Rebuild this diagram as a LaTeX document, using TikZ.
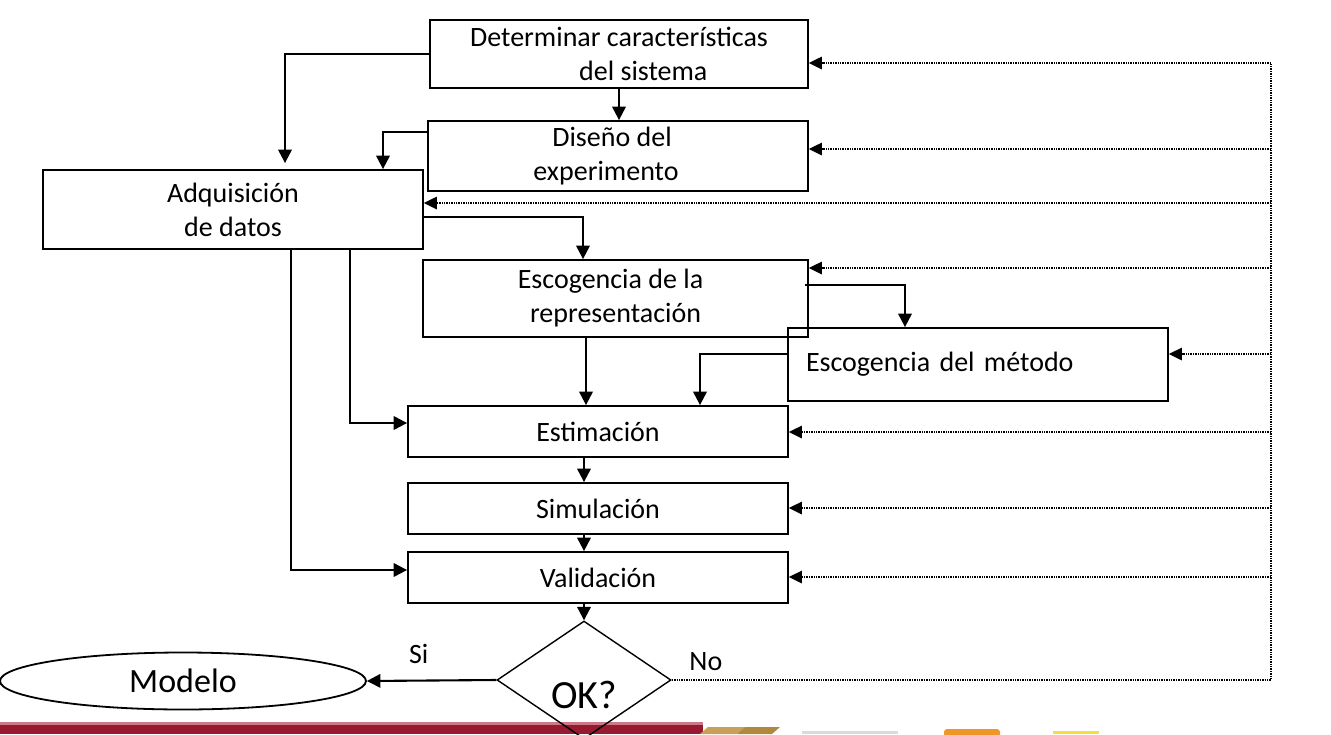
\documentclass[tikz,border=0pt]{standalone}
\usepackage{fontspec}
\setmainfont{Carlito}
\usetikzlibrary{arrows.meta,positioning,shapes.geometric}

\definecolor{barred}{RGB}{152,26,48}
\definecolor{barpink}{RGB}{205,120,135}
\definecolor{goldA}{RGB}{200,160,90}
\definecolor{goldB}{RGB}{176,136,62}
\definecolor{greybar}{RGB}{218,218,218}
\definecolor{orangebar}{RGB}{240,150,40}
\definecolor{yellowbar}{RGB}{246,222,62}

\tikzset{
    box/.style={draw, line width=1.8pt, minimum width=380pt, inner sep=0pt, align=center, font=\fontsize{28}{34}\selectfont},
    arr/.style={-{Triangle[length=13.5pt,width=13.5pt]}, line width=2.1pt},
    fbline/.style={line width=1.5pt, dash pattern=on 1.4pt off 1pt},
    fb/.style={fbline, -{Triangle[length=13pt,width=12.5pt]}},
    lbl/.style={inner sep=0pt, font=\fontsize{28}{34}\selectfont}
}

\begin{document}
\begin{tikzpicture}[x=1pt,y=-1pt]
    \useasboundingbox (0,0) rectangle (1331,734);

    % banda inferior
    \fill[barpink] (0,722) rectangle (703,725);
    \fill[barred] (0,725) rectangle (703,734);
    \fill[goldA] (700,734) -- (708,727) -- (745,727) -- (737,734) -- cycle;
    \fill[goldB] (737,734) -- (745,727) -- (780,727) -- (772,734) -- cycle;
    \fill[greybar] (802,731) rectangle (898,734);
    \fill[orangebar, rounded corners=3pt] (944,729) rectangle (1000,738);
    \fill[yellowbar] (1053,731) rectangle (1099,734);

    \node[box, minimum width=378pt, minimum height=68pt, align=left] (det) at (619,54) {Determinar características\\\hspace*{109pt}del sistema};
    \node[box, minimum height=70pt] (dis) at (618,156) {Diseño del\hspace*{12pt}\\experimento\hspace*{24pt}};
    \node[box, minimum height=79pt] (adq) at (233,209.5) {Adquisición\\de datos};
    \node[box, minimum width=385pt, minimum height=77pt] (rep) at (615.5,298.5) {Escogencia de la\hspace*{10pt}\\representación};
    \node[box, minimum height=73pt, text width=344pt, inner xsep=18pt, align=left] (met) at (978,364.5) {Escogencia del método};
    \node[box, minimum height=51pt] (est) at (598,431.5) {Estimación};
    \node[box, minimum height=51pt] (sim) at (598,508.5) {Simulación};
    \node[box, minimum height=51pt] (val) at (598,577.5) {Validación};
    \node[draw, diamond, line width=1.4pt, inner sep=0pt, minimum width=174pt, minimum height=118pt,
          label={[font=\fontsize{40}{48}\selectfont, yshift=-15pt]center:OK?}] (ok) at (584,680) {};
    \node[draw, ellipse, line width=1.8pt, inner sep=0pt, minimum width=366pt, minimum height=57pt,
          font=\fontsize{34}{40}\selectfont] (mod) at (183,681) {Modelo};

    % flujo principal
    \draw[arr] (det.west) -| ([xshift=52pt,yshift=6pt]adq.north);
    \draw[arr] (det.south) -- (det.south |- dis.north);
    \draw[arr] ([yshift=24pt]dis.west) -| ([xshift=150pt]adq.north);
    \draw[arr] ([yshift=-7.5pt]adq.east) -| ([xshift=-32.5pt]rep.north);
    \draw[arr] ([xshift=-29.5pt]rep.south) -- ([xshift=-12pt]est.north);
    \draw[arr] ([xshift=-4pt,yshift=13.5pt]rep.east) -| ([xshift=-73pt]met.north);
    \draw[arr] ([yshift=10.5pt]met.west) -| ([xshift=102pt]est.north);
    \draw[arr] ([xshift=117pt]adq.south) |- ([yshift=8.5pt]est.west);
    \draw[arr] ([xshift=58pt]adq.south) |- ([yshift=7.5pt]val.west);
    \draw[arr] ([xshift=-14pt]est.south) -- ([xshift=-14pt]sim.north);
    \draw[arr] ([xshift=-14pt]sim.south) -- ([xshift=-14pt]val.north);
    \draw[arr] ([xshift=-14pt]val.south) -- (ok.north);
    \draw[arr] (ok.west) -- node[lbl, above=16pt, pos=0.6] (si) {Si} (mod.east);

    % realimentacion
    \coordinate (bus) at (1271,680);
    \foreach \nm/\yy in {det/63, dis/149, adq/203, rep/268, met/354, est/432, sim/508, val/577} {
        \coordinate (fb-\nm) at (1271,\yy);
        \draw[fb] (fb-\nm) -- (\nm.east |- fb-\nm);
    }
    \draw[fbline] (ok.east) node[lbl, anchor=south west, xshift=17pt, yshift=9pt] (no) {No} -- (bus) -- (fb-det);
\end{tikzpicture}
\end{document}
